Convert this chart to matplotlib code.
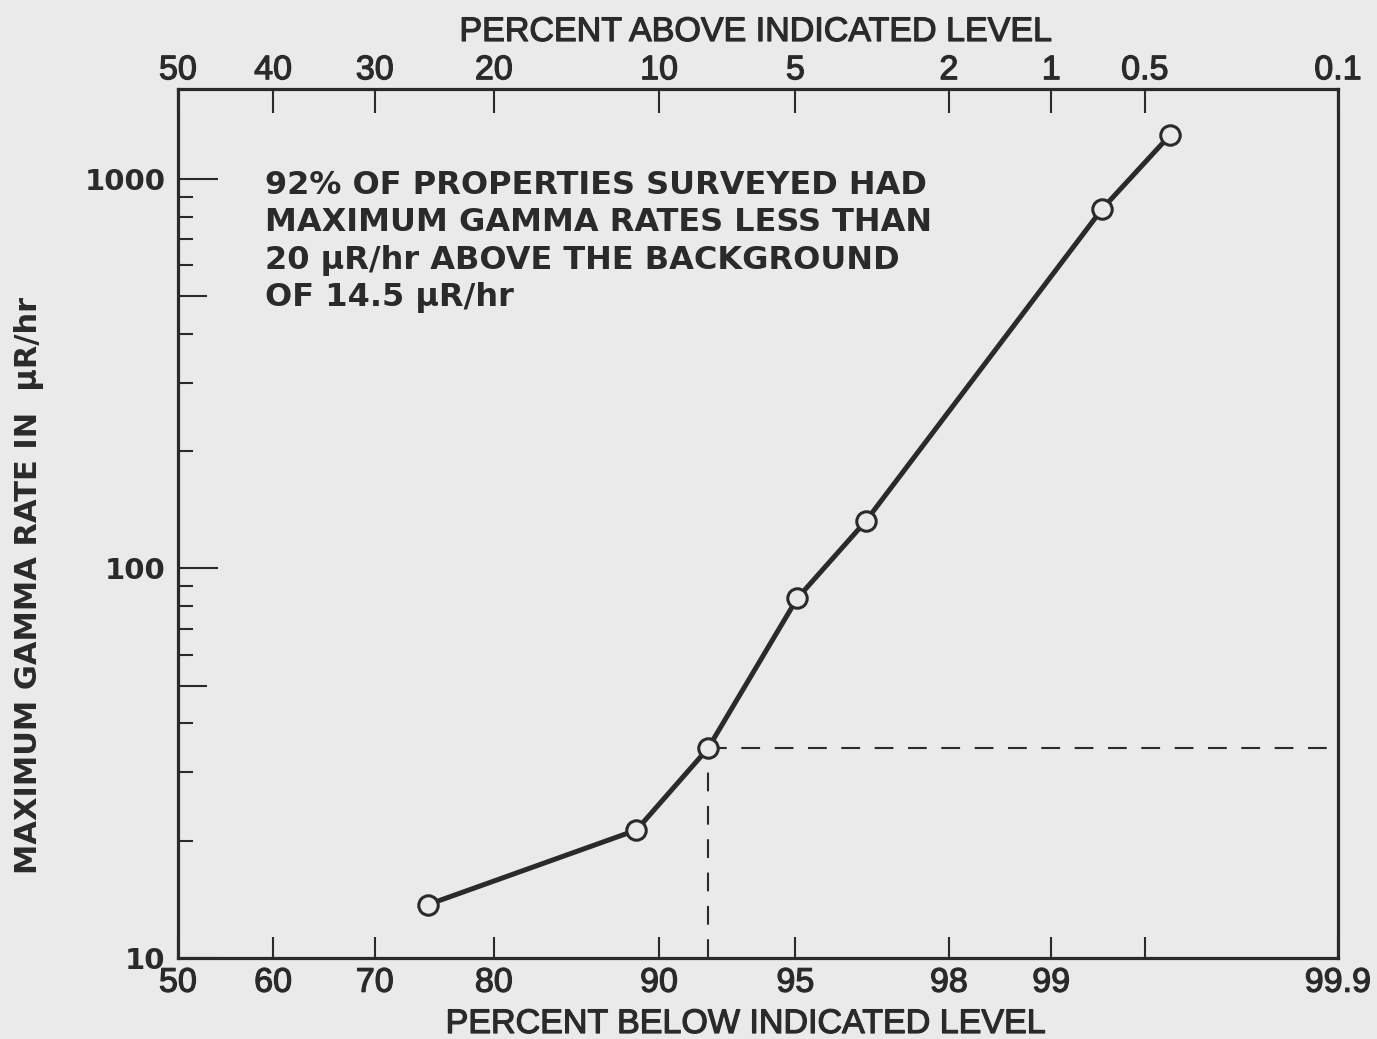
import math
import numpy as np
import matplotlib
matplotlib.use("Agg")
import matplotlib.pyplot as plt
import matplotlib.patheffects as pe
from matplotlib.ticker import FixedLocator, NullLocator, LogLocator, NullFormatter, FixedFormatter

# ---------------- data ----------------
pct_below = [74.7, 88.9, 92.1, 95.05, 96.65, 99.31, 99.59]
gamma_rate = [13.7, 21.3, 34.5, 83.8, 132, 838, 1297]

bottom_ticks = [50, 60, 70, 80, 90, 95, 98, 99, 99.5, 99.9]
bottom_labels = ["50", "60", "70", "80", "90", "95", "98", "99", "", "99.9"]
top_labels = ["50", "40", "30", "20", "10", "5", "2", "1", "0.5", "0.1"]
y_major = [10, 100, 1000]
y_major_labels = ["10", "100", "1000"]
y_half = [50, 500]

note_lines = [
    "92% OF PROPERTIES SURVEYED HAD",
    "MAXIMUM GAMMA RATES LESS THAN",
    "20 \u03bcR/hr ABOVE THE BACKGROUND",
    "OF 14.5 \u03bcR/hr",
]

# ---------------- probability (normal) scale ----------------
_a = [-3.969683028665376e+01, 2.209460984245205e+02, -2.759285104469687e+02,
      1.383577518672690e+02, -3.066479806614716e+01, 2.506628277459239e+00]
_b = [-5.447609879822406e+01, 1.615858368580409e+02, -1.556989798598866e+02,
      6.680131188771972e+01, -1.328068155288572e+01]
_c = [-7.784894002430293e-03, -3.223964580411365e-01, -2.400758277161838e+00,
      -2.549732537375780e+00, 4.374664141464968e+00, 2.938163982698783e+00]
_d = [7.784695709041462e-03, 3.224671290700398e-01, 2.445134137142996e+00,
      3.754408661907416e+00]


def _ppf_scalar(p):
    plow = 0.02425
    if p < plow:
        q = math.sqrt(-2 * math.log(p))
        return (((((_c[0]*q+_c[1])*q+_c[2])*q+_c[3])*q+_c[4])*q+_c[5]) / \
               ((((_d[0]*q+_d[1])*q+_d[2])*q+_d[3])*q+1)
    if p > 1 - plow:
        q = math.sqrt(-2 * math.log(1 - p))
        return -(((((_c[0]*q+_c[1])*q+_c[2])*q+_c[3])*q+_c[4])*q+_c[5]) / \
                ((((_d[0]*q+_d[1])*q+_d[2])*q+_d[3])*q+1)
    q = p - 0.5
    r = q * q
    return (((((_a[0]*r+_a[1])*r+_a[2])*r+_a[3])*r+_a[4])*r+_a[5])*q / \
           (((((_b[0]*r+_b[1])*r+_b[2])*r+_b[3])*r+_b[4])*r+1)


_ppf_vec = np.vectorize(_ppf_scalar, otypes=[float])
_erf_vec = np.vectorize(math.erf, otypes=[float])


def prob_forward(pct):
    p = np.clip(np.asarray(pct, dtype=float) / 100.0, 1e-9, 1 - 1e-9)
    return _ppf_vec(p)


def prob_inverse(z):
    z = np.asarray(z, dtype=float)
    return 50.0 * (1.0 + _erf_vec(z / math.sqrt(2.0)))


# ---------------- figure ----------------
W, H = 1377, 1039
BG = "#eaeaea"
INK = "#2a2a2a"
THICK = [pe.withStroke(linewidth=0.9, foreground=INK)]
fig = plt.figure(figsize=(W / 100, H / 100), dpi=100, facecolor=BG)
ax = fig.add_axes([178 / W, 1 - 958 / H, 1160 / W, 869 / H])
ax.set_facecolor(BG)

ax.set_xscale("function", functions=(prob_forward, prob_inverse))
ax.set_yscale("log")
ax.set_xlim(50, 99.9)
ax.set_ylim(10, 1700)

# main curve
ax.plot(pct_below, gamma_rate, color=INK, lw=3.6, marker="o", ms=14,
        mfc=BG, mec=INK, mew=2.2, zorder=5, solid_capstyle="round")

# dashed guide lines at the 92% point
ax.plot([pct_below[2], pct_below[2]], [10, gamma_rate[2]], color=INK, lw=1.5,
        linestyle=(0, (9, 7)), zorder=3)
ax.plot([pct_below[2], 99.9], [gamma_rate[2], gamma_rate[2]], color=INK, lw=1.5,
        linestyle=(0, (9, 7)), zorder=3)

for s in ax.spines.values():
    s.set_linewidth(2.3)
    s.set_color(INK)

# bottom axis
ax.xaxis.set_major_locator(FixedLocator(bottom_ticks))
ax.xaxis.set_major_formatter(FixedFormatter(bottom_labels))
ax.xaxis.set_minor_locator(NullLocator())
ax.tick_params(axis="x", which="major", direction="in", length=15, width=1.5,
               color=INK, labelsize=24.5, labelcolor=INK, pad=7, top=False)
for t in ax.get_xticklabels():
    t.set_family(["Liberation Sans", "DejaVu Sans"])
    t.set_path_effects(THICK)

# y axis
ax.yaxis.set_major_locator(FixedLocator(y_major))
ax.yaxis.set_major_formatter(FixedFormatter(y_major_labels))
ax.yaxis.set_minor_locator(LogLocator(base=10, subs=[2, 3, 4, 6, 7, 8, 9]))
ax.yaxis.set_minor_formatter(NullFormatter())
ax.tick_params(axis="y", which="major", direction="in", length=29, width=1.5,
               color=INK, labelsize=21, labelcolor=INK, pad=9, right=False)
ax.tick_params(axis="y", which="minor", direction="in", length=11, width=1.5,
               color=INK, right=False)
for t in ax.get_yticklabels():
    t.set_fontweight("bold")
    t.set_family("DejaVu Sans")

sec = ax.secondary_yaxis("left")
sec.set_yticks(y_half)
sec.yaxis.set_major_formatter(NullFormatter())
sec.yaxis.set_minor_locator(NullLocator())
sec.tick_params(axis="y", which="major", direction="in", length=21, width=1.5, color=INK)
sec.spines["left"].set_visible(False)

# top axis (percent above)
ax2 = ax.twiny()
ax2.set_xscale("function", functions=(prob_forward, prob_inverse))
ax2.set_xlim(50, 99.9)
ax2.patch.set_visible(False)
ax2.xaxis.set_major_locator(FixedLocator(bottom_ticks))
ax2.xaxis.set_major_formatter(FixedFormatter(top_labels))
ax2.xaxis.set_minor_locator(NullLocator())
ax2.tick_params(axis="x", which="major", direction="in", length=17, width=1.5,
                color=INK, labelsize=24.5, labelcolor=INK, pad=2)
for t in ax2.get_xticklabels():
    t.set_family(["Liberation Sans", "DejaVu Sans"])
    t.set_path_effects(THICK)
for s in ax2.spines.values():
    s.set_visible(False)

# axis titles
ax.set_xlabel("PERCENT BELOW INDICATED LEVEL", fontsize=24.5, color=INK,
              family=["Liberation Sans", "DejaVu Sans"], path_effects=THICK)
ax.xaxis.set_label_coords((745 - 178) / 1160, (958 - 1009) / 869)
ax2.set_xlabel("PERCENT ABOVE INDICATED LEVEL", fontsize=24.5, color=INK,
               family=["Liberation Sans", "DejaVu Sans"], path_effects=THICK)
ax2.xaxis.set_label_coords((755 - 178) / 1160, (958 - 41) / 869)
ax.set_ylabel("MAXIMUM GAMMA RATE IN  \u03bcR/hr", fontsize=22, fontweight="bold",
              color=INK, family="DejaVu Sans")
ax.yaxis.set_label_coords(-(178 - 44) / 1160, (958 - 585) / 869)

# annotation
ax.text((265 - 178) / 1160, (958 - 170) / 869, "\n".join(note_lines),
        transform=ax.transAxes, ha="left", va="top", fontsize=23,
        fontweight="bold", color=INK, family="DejaVu Sans", linespacing=1.27,
        zorder=6)

fig.savefig("out.png", dpi=100, facecolor=BG)
